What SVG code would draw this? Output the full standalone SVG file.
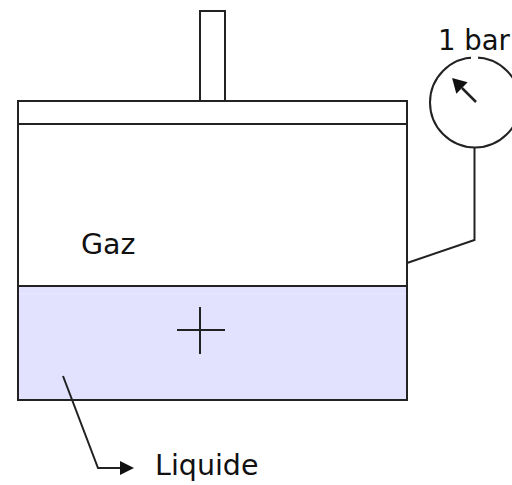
<svg xmlns="http://www.w3.org/2000/svg" width="512" height="485" viewBox="0 0 512 485">
<style>
.s{fill:none;stroke:#222;stroke-width:2}
.t{font-family:"DejaVu Sans","Liberation Sans",sans-serif;fill:#111;font-size:28.500px}
</style>
<defs>
<marker id="a" markerUnits="userSpaceOnUse" markerWidth="14" markerHeight="16" refX="0" refY="8" orient="auto"><path d="M0 1L14 8L0 15Z" fill="#111"/></marker>
<marker id="b" markerUnits="userSpaceOnUse" markerWidth="18" markerHeight="18" refX="2" refY="9" orient="auto"><path d="M2 1L16 9L2 17Z" fill="#111"/></marker>
</defs>
<rect width="512" height="485" fill="#fff"/>
<g id="liquid"><rect x="18" y="287" width="389" height="113" fill="#e2e2ff"/><line x1="18" y1="294" x2="407" y2="294" stroke="#e9e9ff" stroke-width="1"/></g>
<g id="stem"><rect class="s" x="200" y="11" width="25" height="90"/></g>
<g id="vessel"><rect class="s" x="18" y="101" width="389" height="299"/><line class="s" x1="18" y1="124" x2="407" y2="124"/><line class="s" x1="18" y1="286" x2="407" y2="286"/></g>
<g id="cross"><path class="s" d="M177 330H225M200 307V354"/></g>
<g id="gauge"><circle class="s" cx="475" cy="102.500" r="45"/><rect x="471" y="55" width="7" height="4" fill="#fff"/><line x1="476" y1="102" x2="462" y2="88" stroke="#222" stroke-width="2.500" marker-end="url(#b)"/><text class="t" x="438" y="50" style="font-size:27.500px">1 bar</text></g>
<g id="connectors"><path class="s" d="M474.500 148V240L407 263"/><path class="s" d="M63 376L98 468H120" marker-end="url(#a)"/></g>
<g id="labels"><text class="t" x="81" y="254">Gaz</text><text class="t" x="155" y="475">Liquide</text></g>
</svg>
